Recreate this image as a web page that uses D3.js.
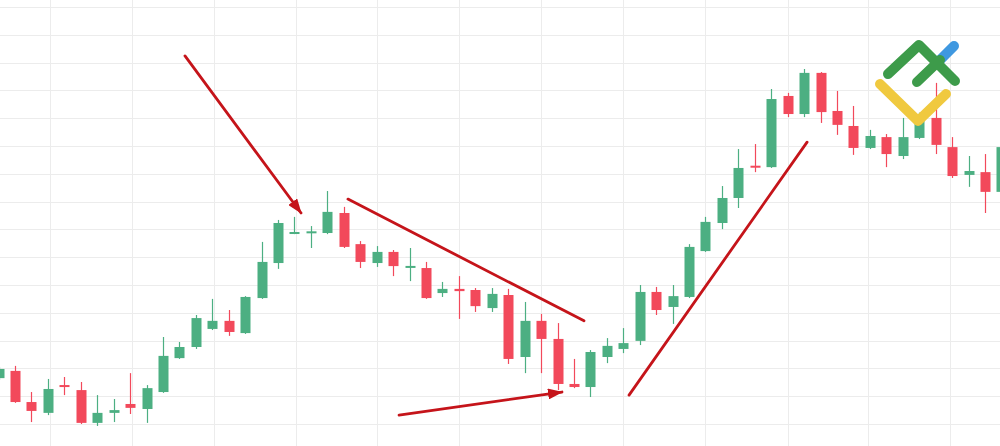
<!DOCTYPE html>
<html>
<head>
<meta charset="utf-8">
<script src="https://cdn.jsdelivr.net/npm/d3@7"></script>
<style>
  html, body { margin: 0; padding: 0; background: #ffffff; }
  svg { display: block; }
</style>
</head>
<body>
<svg id="chart" width="1000" height="446"></svg>
<script>
// ---- Data (candle index 0..61) ----
const opens  = [116.5,119.1,107.9,104.0,114.0,112.2,100.4,104.0,107.2,105.4,111.5,123.7,127.7,134.2,137.1,132.7,145.3,157.9,168.5,168.7,168.7,175.9,164.7,157.9,161.9,156.3,156.1,147.1,148.6,148.2,141.7,146.4,124.1,137.1,130.6,114.4,113.3,124.1,127.0,129.9,147.5,142.1,145.7,162.2,172.3,181.3,192.8,192.4,218.0,211.5,226.3,212.6,207.2,199.3,203.2,196.4,202.9,210.1,199.6,189.6,190.6,183.5];
const highs  = [120.5,120.9,111.5,116.2,116.9,115.1,110.4,109.0,118.3,114.0,131.3,129.5,139.2,145.0,141.0,146.0,165.5,173.4,174.5,171.2,183.8,178.1,165.8,164.0,162.6,163.3,158.3,151.1,153.2,148.9,148.9,148.6,143.9,139.6,136.3,123.4,126.6,130.9,134.5,150.0,149.3,150.0,164.7,174.5,185.6,198.9,200.7,220.5,219.1,227.7,226.6,219.8,214.4,205.8,204.3,210.1,212.0,222.7,203.2,196.4,197.1,202.2];
const lows   = [115.8,107.6,100.7,103.2,110.4,100.0,99.3,100.7,103.6,100.4,111.2,123.4,127.0,133.8,131.7,132.4,145.0,155.8,168.3,163.3,168.3,163.3,156.1,156.5,153.2,151.4,145.0,145.7,137.8,140.3,140.3,121.6,118.3,118.3,112.2,112.9,109.7,121.9,125.5,128.4,139.2,136.0,145.3,161.9,170.1,177.7,190.6,192.1,210.4,210.4,208.3,204.0,196.8,198.9,192.4,195.3,202.5,197.1,188.5,185.3,175.9,182.4];
const closes = [119.8,107.9,104.7,112.6,113.3,100.4,104.0,105.0,105.8,112.9,124.5,127.7,138.1,137.1,133.1,145.7,158.3,172.3,168.9,169.2,176.3,163.7,158.3,161.9,156.8,156.7,145.3,148.6,147.8,142.4,146.8,123.4,137.1,130.6,114.4,113.3,125.9,128.1,129.1,147.5,141.0,146.0,163.7,172.7,181.3,192.1,192.3,216.9,211.5,226.3,212.2,207.6,199.3,203.6,197.1,203.2,210.8,200.4,189.2,191.0,183.5,199.6];

// horizontal grid values (price) and vertical grid positions (candle index)
const hGrid = [100,110,120,130,140,150,160,170,180,190,200,210,220,230,240,250];
const vGrid = [-1.9,3.1,8.1,13.1,18.1,23.0,28.0,33.0,38.0,43.0,48.0,52.9,57.9];

// annotations: [startIndex, startPrice, endIndex, endPrice, hasArrow]
const annotations = [
  [11.34, 232.4, 18.40, 175.9, true],
  [21.25, 180.9, 35.61, 137.1, false],
  [24.36, 103.2, 34.27, 111.5, true],
  [38.35, 110.4, 49.18, 201.4, false]
];

const candles = opens.map((o, i) => ({ i, o, h: highs[i], l: lows[i], c: closes[i] }));

const W = 1000, H = 446;
const svg = d3.select('#chart');

const x = d3.scaleLinear().domain([0, 61]).range([-1.44, 1001.4]);
const y = d3.scaleLinear().domain([100, 250]).range([424, 7]);

const UP = '#4caf82', DOWN = '#f2495b', GRID = '#ececec', ANN = '#c5141a';

svg.append('rect').attr('width', W).attr('height', H).attr('fill', '#fff');

// grid
const g = svg.append('g').attr('shape-rendering', 'crispEdges');
g.selectAll('.hg').data(hGrid).join('line')
  .attr('x1', 0).attr('x2', W)
  .attr('y1', d => Math.round(y(d)) + 0.5).attr('y2', d => Math.round(y(d)) + 0.5)
  .attr('stroke', GRID).attr('stroke-width', 1);
g.selectAll('.vg').data(vGrid).join('line')
  .attr('y1', 0).attr('y2', H)
  .attr('x1', d => Math.round(x(d)) + 0.5).attr('x2', d => Math.round(x(d)) + 0.5)
  .attr('stroke', GRID).attr('stroke-width', 1);

// candles
const cg = svg.append('g');
const col = d => d.c >= d.o ? UP : DOWN;
cg.selectAll('.wick').data(candles).join('line')
  .attr('x1', d => Math.round(x(d.i)) + 0.5).attr('x2', d => Math.round(x(d.i)) + 0.5)
  .attr('y1', d => y(d.h)).attr('y2', d => y(d.l))
  .attr('stroke', col).attr('stroke-width', 1.2);
cg.selectAll('.body').data(candles).join('rect')
  .attr('x', d => Math.round(x(d.i)) - 4.5)
  .attr('width', 10)
  .attr('y', d => {
    const t = y(Math.max(d.o, d.c)), b = y(Math.min(d.o, d.c));
    return (b - t) < 2 ? (t + b) / 2 - 1 : t;
  })
  .attr('height', d => Math.max(2, y(Math.min(d.o, d.c)) - y(Math.max(d.o, d.c))))
  .attr('fill', col);

// annotations
const defs = svg.append('defs');
defs.append('marker').attr('id', 'arrow')
  .attr('viewBox', '0 0 15 11').attr('refX', 14).attr('refY', 5.5)
  .attr('markerWidth', 15).attr('markerHeight', 11)
  .attr('markerUnits', 'userSpaceOnUse').attr('orient', 'auto')
  .append('path').attr('d', 'M0,0 L15,5.5 L0,11 Z').attr('fill', ANN);

svg.append('g').selectAll('line').data(annotations).join('line')
  .attr('x1', d => x(d[0])).attr('y1', d => y(d[1]))
  .attr('x2', d => x(d[2])).attr('y2', d => y(d[3]))
  .attr('stroke', ANN).attr('stroke-width', 2.8).attr('stroke-linecap', 'round')
  .attr('marker-end', d => d[4] ? 'url(#arrow)' : null);

// logo
const logo = svg.append('g').attr('fill', 'none')
  .attr('stroke-width', 10).attr('stroke-linecap', 'round').attr('stroke-linejoin', 'round');
logo.append('path').attr('d', 'M939,61 L954,46').attr('stroke', '#3f98e0');
logo.append('path').attr('d', 'M888,74 L919,45 L955,81').attr('stroke', '#3d9b4a');
logo.append('path').attr('d', 'M917,82 L940,60').attr('stroke', '#3d9b4a');
logo.append('path').attr('d', 'M880,84 L918,121 L946,94').attr('stroke', '#f0c93f');
</script>
</body>
</html>
